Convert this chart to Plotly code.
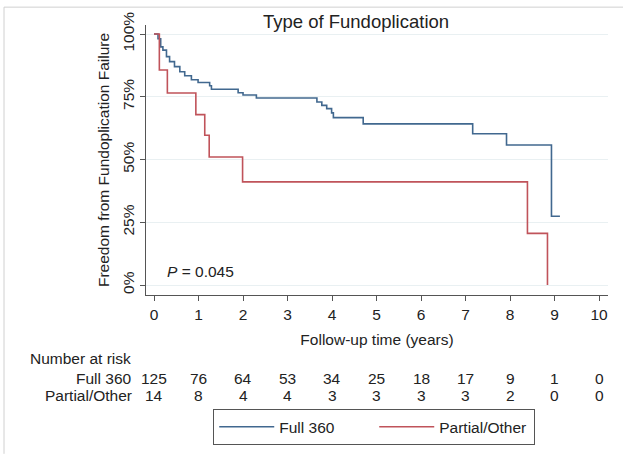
import plotly.graph_objects as go

# ---- data ----
full_t = [0, 0.09, 0.15, 0.20, 0.28, 0.35, 0.46, 0.58, 0.69, 0.84, 0.99, 1.25, 1.29,
          1.89, 2.0, 2.3, 3.66, 3.77, 3.88, 3.99, 4.03, 4.7, 7.16, 7.92, 8.93, 9.12]
full_s = [100, 98.1, 94.9, 93.6, 91, 89, 87, 85, 83.4, 81.8, 80.7, 79.4, 78,
          76.6, 75.7, 74.5, 72.9, 71.6, 70.3, 68.6, 66.7, 64.2, 60.3, 55.8, 27.4, 27.4]
part_t = [0, 0.12, 0.3, 0.94, 1.14, 1.24, 1.99, 8.39, 8.84]
part_s = [100, 85.7, 76.5, 67.9, 59.7, 51.0, 41.1, 20.6, 0]

risk_times = [0, 1, 2, 3, 4, 5, 6, 7, 8, 9, 10]
risk_full = [125, 76, 64, 53, 34, 25, 18, 17, 9, 1, 0]
risk_part = [14, 8, 4, 4, 3, 3, 3, 3, 2, 0, 0]
y_ticks = [0, 25, 50, 75, 100]
y_tick_labels = ["0%", "25%", "50%", "75%", "100%"]

BLUE = "#41688f"
RED = "#c0535a"
FONT = "Liberation Sans, Arial, sans-serif"
FS = 15.5

fig = go.Figure()
fig.add_trace(go.Scatter(x=full_t, y=full_s, mode="lines", line_shape="hv",
                         line=dict(color=BLUE, width=1.6), name="Full 360"))
fig.add_trace(go.Scatter(x=part_t, y=part_s, mode="lines", line_shape="hv",
                         line=dict(color=RED, width=1.6), name="Partial/Other"))

fig.update_layout(
    width=623, height=457,
    margin=dict(l=146, r=15, t=25, b=160),
    paper_bgcolor="white", plot_bgcolor="white",
    font=dict(family=FONT, size=FS, color="#222"),
    title=dict(text="Type of Fundoplication", x=(356 / 623), xanchor="center",
               y=1 - 22 / 457, yanchor="middle", font=dict(size=18.5, color="#222")),
    showlegend=True,
    legend=dict(orientation="h", x=0.494, xanchor="center", y=-0.423, yanchor="top",
                bordercolor="#555", borderwidth=1, font=dict(size=FS, color="#222"),
                entrywidth=90, itemwidth=55, bgcolor="white", tracegroupgap=0),
)

fig.update_xaxes(range=[-0.18, 10.2], tickvals=risk_times, ticks="outside", ticklen=5,
                 tickcolor="#555", showline=True, linecolor="#555", linewidth=1,
                 showgrid=False, zeroline=False,
                 title=dict(text="Follow-up time (years)", standoff=12, font=dict(size=FS)),
                 tickfont=dict(size=FS))
fig.update_yaxes(range=[-3.95, 103.6], tickvals=y_ticks, ticktext=y_tick_labels,
                 tickangle=-90, ticks="outside", ticklen=5, tickcolor="#555",
                 showline=True, linecolor="#555", linewidth=1,
                 showgrid=True, gridcolor="#e9f0f2", gridwidth=1, zeroline=False,
                 title=dict(text="Freedom from Fundoplication Failure", standoff=6,
                            font=dict(size=FS)),
                 tickfont=dict(size=FS))

# P value
fig.add_annotation(x=0.25, y=5.5, xref="x", yref="y", text="<i>P</i> = 0.045",
                   showarrow=False, xanchor="left", yanchor="middle", font=dict(size=FS))

# Number at risk table
ROW_HDR, ROW_FULL, ROW_PART = -0.237, -0.309, -0.374
fig.add_annotation(x=-0.255, y=ROW_HDR, xref="paper", yref="paper", text="Number at risk",
                   showarrow=False, xanchor="left", yanchor="middle", font=dict(size=FS))
fig.add_annotation(x=-0.026, y=ROW_FULL, xref="paper", yref="paper", text="Full 360",
                   showarrow=False, xanchor="right", yanchor="middle", font=dict(size=FS))
fig.add_annotation(x=-0.026, y=ROW_PART, xref="paper", yref="paper", text="Partial/Other",
                   showarrow=False, xanchor="right", yanchor="middle", font=dict(size=FS))
for t, a, b in zip(risk_times, risk_full, risk_part):
    fig.add_annotation(x=t, y=ROW_FULL, xref="x", yref="paper", text=str(a),
                       showarrow=False, xanchor="center", yanchor="middle", font=dict(size=FS))
    fig.add_annotation(x=t, y=ROW_PART, xref="x", yref="paper", text=str(b),
                       showarrow=False, xanchor="center", yanchor="middle", font=dict(size=FS))

# faint frame at top and left of the image
fig.add_shape(type="line", xref="paper", yref="paper", x0=-142 / 462, x1=1 + 15 / 462,
              y0=1 + 18 / 272, y1=1 + 18 / 272, line=dict(color="#d0d0d0", width=1))
fig.add_shape(type="line", xref="paper", yref="paper", x0=-142 / 462, x1=-142 / 462,
              y0=1 + 18 / 272, y1=-160 / 272, line=dict(color="#d0d0d0", width=1))

fig.write_html("out.html", config={"displayModeBar": False},
               post_script="document.body.style.margin='0px';")
